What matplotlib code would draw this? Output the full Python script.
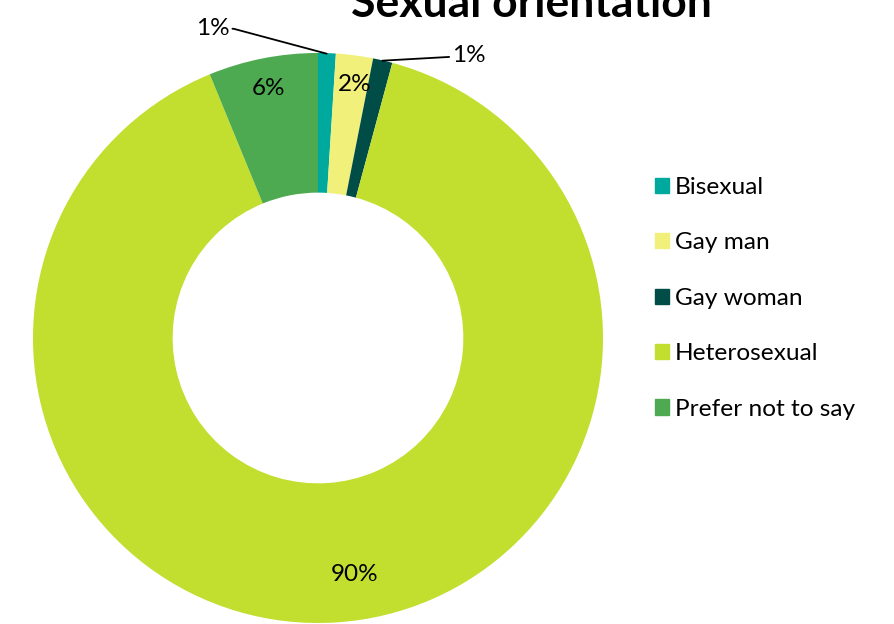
import matplotlib.pyplot as plt
import matplotlib.patches as mpatches

plt.rcParams['font.family'] = ['Lato', 'DejaVu Sans']

# data
categories = ["Bisexual", "Gay man", "Gay woman", "Heterosexual", "Prefer not to say"]
values = [1.0, 2.1, 1.1, 89.6, 6.2]
labels = ["1%", "2%", "1%", "90%", "6%"]
colors = ["#00A99D", "#F0F07A", "#004D47", "#C2DE2F", "#4DAA50"]

fig = plt.figure(figsize=(8.94, 6.24), dpi=100)
ax = fig.add_axes([0.0369, 0.0016, 0.6376, 0.9135])

wedges, _ = ax.pie(values, colors=colors, startangle=90, counterclock=False,
                   radius=1.0, wedgeprops=dict(width=0.49, linewidth=0))
ax.set_xlim(-1, 1)
ax.set_ylim(-1, 1)
ax.set_aspect('equal')
ax.axis('off')

fs = 17.5
# labels inside the ring
ax.text(-0.175, 0.877, labels[4], ha='center', va='center', fontsize=fs)
ax.text(0.13, 0.89, labels[1], ha='center', va='center', fontsize=fs)
ax.text(0.13, -0.83, labels[3], ha='center', va='center', fontsize=fs)

# labels outside with leader lines
ax.annotate(labels[0], xy=(0.0305, 0.9975), xytext=(-0.31, 1.085),
            ha='right', va='center', fontsize=fs, annotation_clip=False,
            arrowprops=dict(arrowstyle='-', color='black', lw=1.3,
                            shrinkA=0, shrinkB=0,
                            connectionstyle="angle,angleA=0,angleB=-15,rad=0"))
ax.annotate(labels[2], xy=(0.226, 0.973), xytext=(0.47, 0.99),
            ha='left', va='center', fontsize=fs, annotation_clip=False,
            arrowprops=dict(arrowstyle='-', color='black', lw=1.3,
                            shrinkA=0, shrinkB=0))

fig.text(0.594, 1 - 17 / 624, "Sexual orientation", ha='center', va='baseline',
         fontsize=32, fontweight='bold')

handles = [mpatches.Patch(color=c, label=l) for c, l in zip(colors, categories)]
fig.legend(handles=handles, loc='center left', bbox_to_anchor=(0.708, 0.522),
           frameon=False, fontsize=17.6, handlelength=0.58, handleheight=0.58,
           handletextpad=0.25, labelspacing=1.41)

fig.savefig("out.png", dpi=100)
